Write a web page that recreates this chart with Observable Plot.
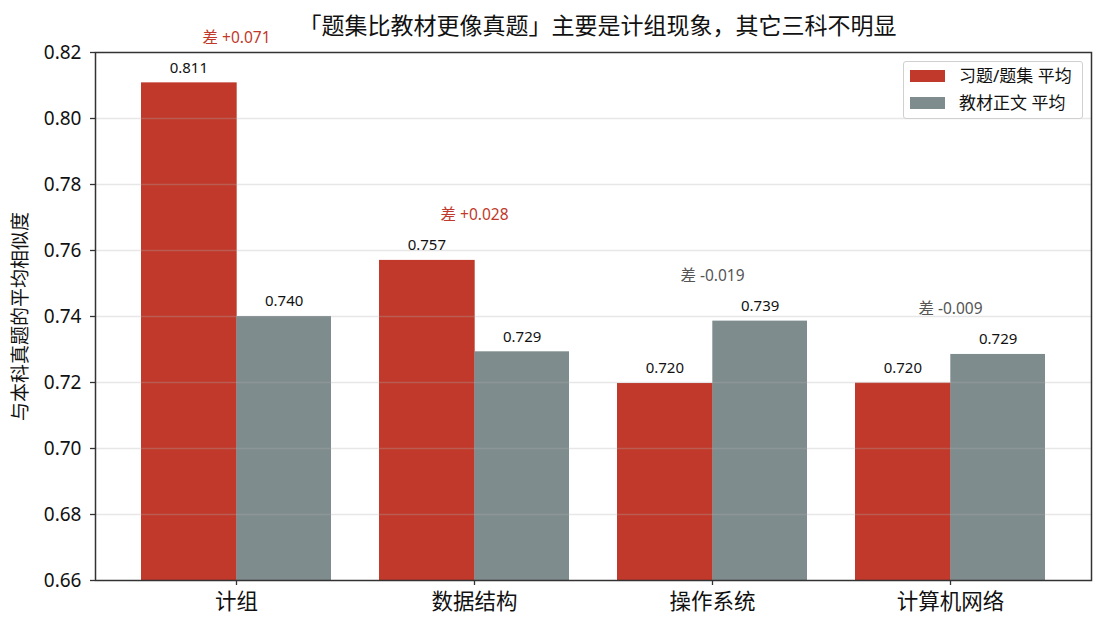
<!DOCTYPE html>
<html>
<head>
<meta charset="utf-8">
<script src="https://cdn.jsdelivr.net/npm/d3@7"></script>
<script src="https://cdn.jsdelivr.net/npm/@observablehq/plot@0.6"></script>
<style>
  body { margin: 0; background: #fff; }
  #wrap { position: relative; width: 1106px; height: 630px; font-family: "Noto Sans", "Noto Sans CJK SC", sans-serif; }
  #legend { position: absolute; left: 903px; top: 61px; width: 178px; height: 56px; border: 1px solid #d0d0d0; border-radius: 3px; background: rgba(255,255,255,0.85); }
  .sw { position: absolute; left: 6px; width: 35px; height: 12px; }
  .lt { position: absolute; left: 55px; font-size: 17px; line-height: 20px; color: #111; white-space: nowrap; }
</style>
</head>
<body>
<div id="wrap"></div>
<script>
// ---- data ----
const categories = ["计组", "数据结构", "操作系统", "计算机网络"];
const exerciseAvg = [0.8108, 0.7570, 0.7197, 0.7198];
const textbookAvg = [0.7400, 0.7293, 0.7386, 0.7285];
const seriesNames = ["习题/题集 平均", "教材正文 平均"];
const seriesColors = ["#c0392b", "#7f8c8d"];
const yTicks = [0.66, 0.68, 0.70, 0.72, 0.74, 0.76, 0.78, 0.80, 0.82];
const titleText = "「题集比教材更像真题」主要是计组现象，其它三科不明显";
const yLabelText = "与本科真题的平均相似度";

// ---- layout ----
const W = 1106, H = 630, mL = 95, mR = 15, mT = 52, mB = 50;
const padIn = 0.2, padOut = 0.19;
const step = (W - mL - mR) / (categories.length - padIn + 2 * padOut);
const half = step * (1 - padIn) / 2;

const rows = categories.map((c, i) => ({
  cat: c, ex: exerciseAvg[i], tb: textbookAvg[i],
  diff: exerciseAvg[i] - textbookAvg[i],
  top: Math.max(exerciseAvg[i], textbookAvg[i])
}));

const fmtDiff = d => "差 " + (d >= 0 ? "+" : "-") + Math.abs(d).toFixed(3);

const chart = Plot.plot({
  width: W, height: H,
  marginLeft: mL, marginRight: mR, marginTop: mT, marginBottom: mB,
  style: { fontFamily: '"Noto Sans", "Noto Sans CJK SC", sans-serif', color: "#111", background: "#fff" },
  x: { domain: categories, paddingInner: padIn, paddingOuter: padOut, align: 0.5, label: null },
  y: { domain: [0.66, 0.82], label: null },
  marks: [
    Plot.barY(rows, { x: "cat", y: "ex", fill: seriesColors[0], insetRight: half - 1, clip: true }),
    Plot.barY(rows, { x: "cat", y: "tb", fill: seriesColors[1], insetLeft: half, clip: true }),
    Plot.ruleY(yTicks.slice(1, -1), { stroke: "#b0b0b0", strokeOpacity: 0.3, strokeWidth: 1.6 }),
    Plot.frame({ stroke: "#333", strokeWidth: 1.5 }),
    Plot.axisY({ ticks: yTicks, tickFormat: d => d.toFixed(2), tickSize: 5, tickPadding: 9, fontSize: 19, stroke: "#333", strokeWidth: 1.3, label: null }),
    Plot.axisX({ tickSize: 5, tickPadding: 8, fontSize: 21.5, stroke: "#333", strokeWidth: 1.3, label: null }),
    Plot.text(rows, { x: "cat", y: "ex", text: d => d.ex.toFixed(3), dx: -half / 2, dy: -15, fontSize: 15, fill: "#111" }),
    Plot.text(rows, { x: "cat", y: "tb", text: d => d.tb.toFixed(3), dx: half / 2, dy: -15, fontSize: 15, fill: "#111" }),
    Plot.text(rows, { x: "cat", y: "top", text: d => fmtDiff(d.diff), dy: -45, fontSize: 15.5, fill: d => d.diff >= 0 ? "#c0392b" : "#555" }),
    Plot.text([titleText], { frameAnchor: "top", dy: -35, dx: 4, fontSize: 23, fill: "#111" }),
    Plot.text([yLabelText], { frameAnchor: "left", textAnchor: "middle", rotate: -90, dx: -75, fontSize: 19, fill: "#111" })
  ]
});

const wrap = document.getElementById("wrap");
wrap.appendChild(chart);

const legend = document.createElement("div");
legend.id = "legend";
seriesNames.forEach((name, i) => {
  const sw = document.createElement("div");
  sw.className = "sw";
  sw.style.top = (i === 0 ? 8 : 35) + "px";
  sw.style.background = seriesColors[i];
  const tx = document.createElement("div");
  tx.className = "lt";
  tx.style.top = (i === 0 ? 4 : 31) + "px";
  tx.textContent = name;
  legend.appendChild(sw); legend.appendChild(tx);
});
wrap.appendChild(legend);
</script>
</body>
</html>
